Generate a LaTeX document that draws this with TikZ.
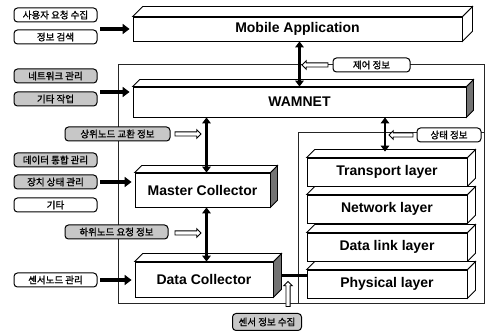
\documentclass[tikz,border=0pt]{standalone}
\usepackage{fontspec}
\setmainfont{Liberation Sans}
\newfontfamily\kr[FakeBold=1.2]{Noto Sans CJK KR}
\usetikzlibrary{arrows.meta,shapes.arrows}

\begin{document}
\begin{tikzpicture}[x=1pt,y=-1pt,
  frame/.style={draw=black!85,line width=0.7pt},
  face/.style={draw,line width=0.8pt,fill=white,inner sep=0pt,
    font=\bfseries\fontsize{14}{14}\selectfont},
  tag/.style={draw,line width=1pt,rounded corners=3.5pt,fill=white,inner sep=0pt,
    minimum height=14pt,font=\kr\fontsize{9.5}{9.5}\selectfont},
  tagdark/.style={tag,fill=black!22},
  push/.style={line width=3.6pt,-{Triangle[length=7pt,width=10pt]},shorten >=3pt},
  both/.style={line width=2.6pt,{Triangle[length=6pt,width=8.5pt]}-{Triangle[length=6pt,width=8.5pt]}},
  hollow/.style={single arrow,draw,line width=0.9pt,fill=white,inner sep=1.6pt,
    single arrow head extend=2.2pt,minimum height=26pt},
  link/.style={line width=3.6pt}
]
\useasboundingbox (0,0) rectangle (491,334);

% system frame and protocol-stack area
\draw[frame] (118,64) rectangle (484,303);
\draw[frame] (298,303) -- (298,132) -- (484,132);

% main blocks (front faces)
\node[face,minimum width=329pt,minimum height=24pt] (mob) at (297.5,29) {Mobile Application};
\node[face,minimum width=333pt,minimum height=30pt] (wam) at (299.5,102) {WAMNET};
\node[face,minimum width=135pt,minimum height=34pt] (mas) at (202.5,190) {Master Collector};
\node[face,minimum width=138pt,minimum height=35pt] (dat) at (204,279.5) {Data Collector};
\node[face,minimum width=160pt,minimum height=28pt] (tra) at (387,172) {Transport layer};
\node[face,minimum width=160pt,minimum height=28pt] (net) at (387,209) {Network layer};
\node[face,minimum width=160pt,minimum height=28pt] (lnk) at (387,247) {Data link layer};
\node[face,minimum width=160pt,minimum height=28pt] (phy) at (387,284) {Physical layer};

% top and side faces of the blocks
\foreach \n/\d/\c in {mob/10/white, wam/7/black!55, mas/7/black!55, dat/8/black!55,
                      tra/8/white, net/8/white, lnk/8/white, phy/8/white} {
  \filldraw[fill=\c,line width=0.8pt] (\n.north east) -- ++(\d,-\d)
    -- ([shift={(\d,-\d)}]\n.south east) -- (\n.south east) -- cycle;
  \filldraw[fill=white,line width=0.8pt] (\n.north west) -- ++(\d,-\d)
    -- ([shift={(\d,-\d)}]\n.north east) -- (\n.north east) -- cycle;
}

% input tags
\node[tag,minimum width=83pt] (t1) at (55.5,15) {사용자 요청 수집};
\node[tag,minimum width=83pt] (t2) at (55.5,37) {정보 검색};
\node[tagdark,minimum width=83pt] (t3) at (55.5,76) {네트워크 관리};
\node[tagdark,minimum width=83pt] (t4) at (55.5,99) {기타 작업};
\node[tagdark,minimum width=105pt] (t5) at (117.5,134) {상위노드 교환 정보};
\node[tagdark,minimum width=83pt] (t6) at (55.5,160) {데이터 통합 관리};
\node[tagdark,minimum width=83pt] (t7) at (55.5,182) {장치 상태 관리};
\node[tag,minimum width=83pt] (t8) at (55.5,205) {기타};
\node[tagdark,minimum width=103pt] (t9) at (116.5,232) {하위노드 요청 정보};
\node[tag,minimum width=83pt] (t10) at (55.5,280) {센서노드 관리};
\node[tag,minimum width=77pt] (t11) at (371.5,65) {제어 정보};
\node[tag,minimum width=64pt] (t12) at (449,135) {상태 정보};
\node[tagdark,minimum width=69pt,minimum height=17pt] (t13) at (267,322) {센서 정보 수집};

% hollow hint arrows
\node[hollow,shape border rotate=180] (h1) at (316,65) {};
\node[hollow] (h2) at (187,134) {};
\node[hollow] (h3) at (187,233) {};
\node[hollow,shape border rotate=180,minimum height=24pt] (h4) at (402,135) {};
\node[hollow,shape border rotate=90,minimum height=25pt] (h5) at (288,295) {};

% feed arrows from the tag column
\coordinate (p1) at (100,29);
\coordinate (p2) at (100,92);
\coordinate (p3) at (100,182);
\coordinate (p4) at (100,280);
\draw[push] (p1) -- (p1 -| mob.west);
\draw[push] (p2) -- (p2 -| wam.west);
\draw[push] (p3) -- (p3 -| mas.west);
\draw[push] (p4) -- (p4 -| dat.west);

% two-way links between blocks
\draw[both] (wam.north |- mob.south) -- (wam.north);
\draw[both] ([xshift=4pt]mas.north |- wam.south) -- ([xshift=4pt]mas.north);
\draw[both] ([xshift=4pt]mas.south) -- ([xshift=4pt]mas.south |- dat.north);
\draw[both] ([xshift=-2pt]tra.north |- wam.south) -- ([xshift=-2pt,yshift=6pt]tra.north);

% data collector to physical layer
\coordinate (dr) at ([xshift=8pt,yshift=4pt]dat.east);
\draw[link] (dr) -- (dr -| phy.west);
\end{tikzpicture}
\end{document}
